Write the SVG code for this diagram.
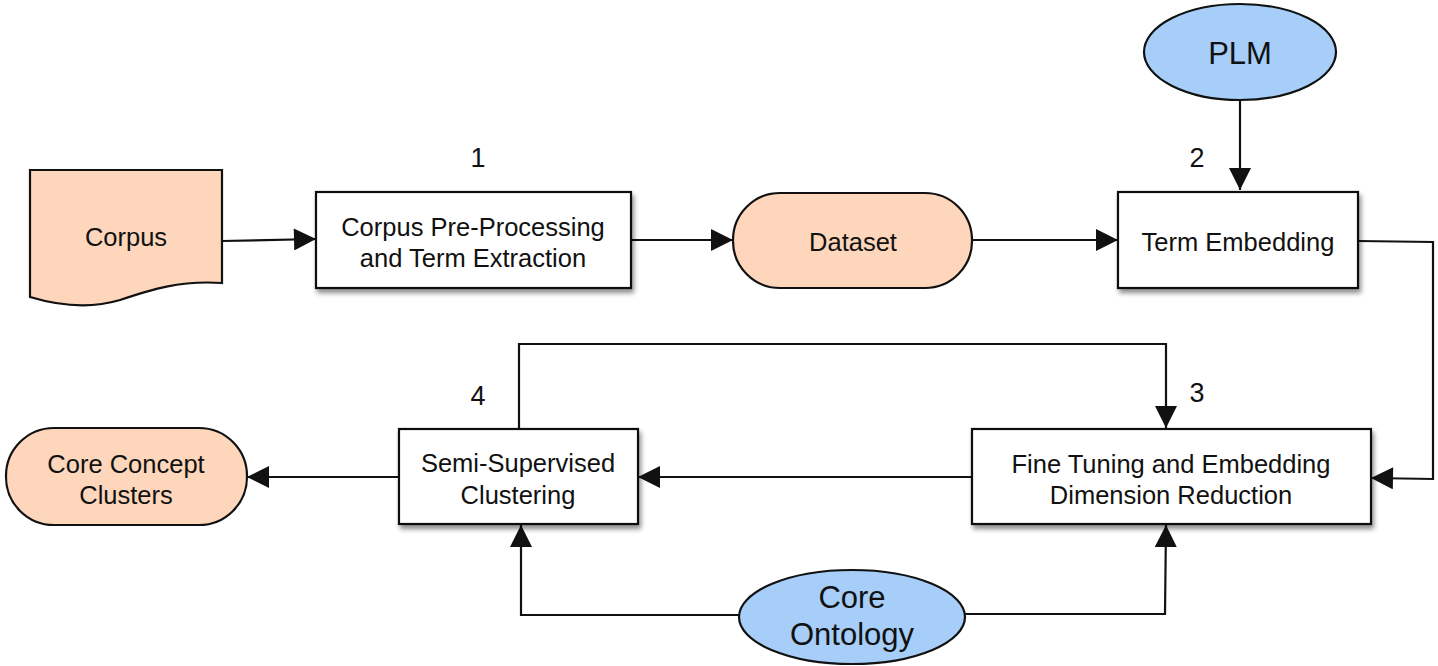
<svg xmlns="http://www.w3.org/2000/svg" width="1438" height="666" viewBox="0 0 1438 666">
<style>
text{font-family:"Liberation Sans",Arial,sans-serif;fill:#111;text-anchor:middle;dominant-baseline:central}
.lbl{font-size:25.5px}
.big{font-size:31px}
.num{font-size:27px}
.node{stroke:#111;stroke-width:2.2}
.box{fill:#fff}
.peach{fill:#fdd6bb}
.blue{fill:#a6cef9}
.conn{fill:none;stroke:#111;stroke-width:2.2}
</style>
<defs>
<marker id="a" viewBox="0 0 20 20" refX="20" refY="10" markerWidth="24" markerHeight="22" markerUnits="userSpaceOnUse" orient="auto">
<path d="M0,0 L20,10 L0,20 z" fill="#111"/>
</marker>
<filter id="sh" x="-10%" y="-10%" width="130%" height="140%">
<feGaussianBlur in="SourceAlpha" stdDeviation="2.5"/>
<feOffset dx="2" dy="4" result="b"/>
<feComponentTransfer><feFuncA type="linear" slope="0.45"/></feComponentTransfer>
<feMerge><feMergeNode/><feMergeNode in="SourceGraphic"/></feMerge>
</filter>
</defs>
<rect width="1438" height="666" fill="#fff"/>

<g id="connectors">
<path class="conn" d="M222,241 L316,239" marker-end="url(#a)"/>
<path class="conn" d="M631,240 L733,240" marker-end="url(#a)"/>
<path class="conn" d="M972,240 L1118,240" marker-end="url(#a)"/>
<path class="conn" d="M1240,100 L1240,190" marker-end="url(#a)"/>
<path class="conn" d="M1358,241 L1433,242 L1433,479 L1371,478" marker-end="url(#a)"/>
<path class="conn" d="M972,477 L638,477" marker-end="url(#a)"/>
<path class="conn" d="M399,477 L247,477" marker-end="url(#a)"/>
<path class="conn" d="M519,429 L519,344 L1166,344 L1166,428" marker-end="url(#a)"/>
<path class="conn" d="M740,615 L521,615 L521,525" marker-end="url(#a)"/>
<path class="conn" d="M965,614 L1165,614 L1166,525" marker-end="url(#a)"/>
</g>

<g id="corpus">
<path class="node peach" d="M30,170 L222,170 L222,283 C180,280 150,290 120,300 C90,309 60,306 30,297 Z"/>
<text class="lbl" x="126" y="237">Corpus</text>
</g>

<g id="step1">
<rect class="node box" x="316" y="192" width="315" height="96" filter="url(#sh)"/>
<text class="lbl" x="473" y="227">Corpus Pre-Processing</text>
<text class="lbl" x="473" y="258">and Term Extraction</text>
<text class="num" x="478" y="158">1</text>
</g>

<g id="dataset">
<rect class="node peach" x="733" y="193" width="239" height="95" rx="47" ry="47"/>
<text class="lbl" x="853" y="242">Dataset</text>
</g>

<g id="plm">
<ellipse class="node blue" cx="1240" cy="52" rx="96" ry="48"/>
<text class="big" x="1240" y="53">PLM</text>
</g>

<g id="step2">
<rect class="node box" x="1118" y="192" width="240" height="96" filter="url(#sh)"/>
<text class="lbl" x="1238" y="242">Term Embedding</text>
<text class="num" x="1197" y="158">2</text>
</g>

<g id="step3">
<rect class="node box" x="972" y="429" width="399" height="95" filter="url(#sh)"/>
<text class="lbl" x="1171" y="464">Fine Tuning and Embedding</text>
<text class="lbl" x="1171" y="495">Dimension Reduction</text>
<text class="num" x="1197" y="393">3</text>
</g>

<g id="step4">
<rect class="node box" x="399" y="429" width="239" height="95" filter="url(#sh)"/>
<text class="lbl" x="518" y="463">Semi-Supervised</text>
<text class="lbl" x="518" y="495">Clustering</text>
<text class="num" x="478" y="396">4</text>
</g>

<g id="clusters">
<rect class="node peach" x="6" y="428" width="241" height="97" rx="48" ry="48"/>
<text class="lbl" x="126" y="464">Core Concept</text>
<text class="lbl" x="126" y="495">Clusters</text>
</g>

<g id="ontology">
<ellipse class="node blue" cx="852" cy="617" rx="113" ry="47"/>
<text class="big" x="852" y="597">Core</text>
<text class="big" x="852" y="634">Ontology</text>
</g>
</svg>
